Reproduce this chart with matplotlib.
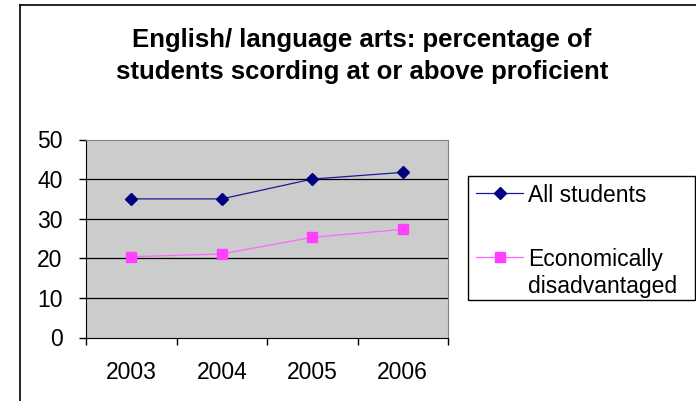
import matplotlib
matplotlib.use("Agg")
import matplotlib.pyplot as plt
from matplotlib.lines import Line2D
from matplotlib.patches import Rectangle

years = ["2003", "2004", "2005", "2006"]
all_students = [35, 35, 40, 41.7]
econ_disadv = [20.4, 21.1, 25.3, 27.3]
yticks = [0, 10, 20, 30, 40, 50]
series_labels = ["All students", "Economically\ndisadvantaged"]

plt.rcParams['font.family'] = ['Liberation Sans', 'DejaVu Sans']

W, H = 696, 401
fig = plt.figure(figsize=(W / 100, H / 100), dpi=100)
fig.patch.set_facecolor('white')


def fx(px):
    return px / W


def fy(py):
    return 1 - py / H


# outer chart-area border (left and top visible)
fig.add_artist(Line2D([fx(20), fx(20)], [0, fy(5)], transform=fig.transFigure, color='black', lw=1.2))
fig.add_artist(Line2D([fx(20), 1], [fy(5), fy(5)], transform=fig.transFigure, color='black', lw=1.2))

x0, x1 = 86, 448
y_top, y_bot = 139.5, 337.5
ax = fig.add_axes([fx(x0), fy(y_bot), (x1 - x0) / W, (y_bot - y_top) / H])
ax.set_facecolor('#CCCCCC')

styles = [
    dict(color='#1A1A99', lw=0.9, marker='D', markersize=6.5,
         markerfacecolor='#000080', markeredgecolor='#000080'),
    dict(color='#FF66FF', lw=0.9, marker='s', markersize=6.5,
         markerfacecolor='#FF40FF', markeredgecolor='#FF40FF'),
]

xs = [i + 0.5 for i in range(len(years))]
ax.plot(xs, all_students, zorder=3, **styles[0])
ax.plot(xs, econ_disadv, zorder=3, **styles[1])

ax.set_xlim(0, len(years))
ax.set_ylim(0, 50)
ax.set_yticks(yticks)
ax.set_yticklabels([str(v) for v in yticks], fontsize=16.5)
ax.set_xticks(range(len(years) + 1))
ax.set_xticklabels([])
ax.set_xticks(xs, minor=True)
ax.set_xticklabels(years, minor=True, fontsize=16.5)
ax.tick_params(axis='x', which='minor', length=0, pad=17)
ax.tick_params(axis='x', which='major', length=5, width=1, direction='out', color='black')
ax.tick_params(axis='y', length=5, width=1, direction='out', pad=12)

for v in [10, 20, 30, 40]:
    ax.axhline(v, color='black', lw=0.9, zorder=1)

ax.spines['left'].set_color('black')
ax.spines['bottom'].set_color('black')
ax.spines['top'].set_color('#808080')
ax.spines['right'].set_color('#808080')

fig.text(fx(362), fy(56), "English/ language arts: percentage of\nstudents scording at or above proficient",
         ha='center', va='center', fontsize=18.5, fontweight='bold', linespacing=1.45)

# legend (Excel style: marker aligned with first text line)
fig.add_artist(Rectangle((fx(468), fy(300)), (695 - 468) / W, (300 - 176) / H,
                         transform=fig.transFigure, facecolor='white', edgecolor='black', lw=1.0))
entry_y = [193, 257]
for st, lab, yy in zip(styles, series_labels, entry_y):
    fig.add_artist(Line2D([fx(476), fx(523)], [fy(yy), fy(yy)], transform=fig.transFigure,
                          color=st['color'], lw=st['lw']))
    fig.add_artist(Line2D([fx(499.5)], [fy(yy)], transform=fig.transFigure, linestyle='none',
                          marker=st['marker'], markersize=st['markersize'],
                          markerfacecolor=st['markerfacecolor'], markeredgecolor=st['markeredgecolor']))
    lines = lab.split('\n')
    for k, ln in enumerate(lines):
        fig.text(fx(528), fy(yy + k * 27), ln, ha='left', va='center_baseline', fontsize=16.5)

fig.savefig('out.png', dpi=100)
